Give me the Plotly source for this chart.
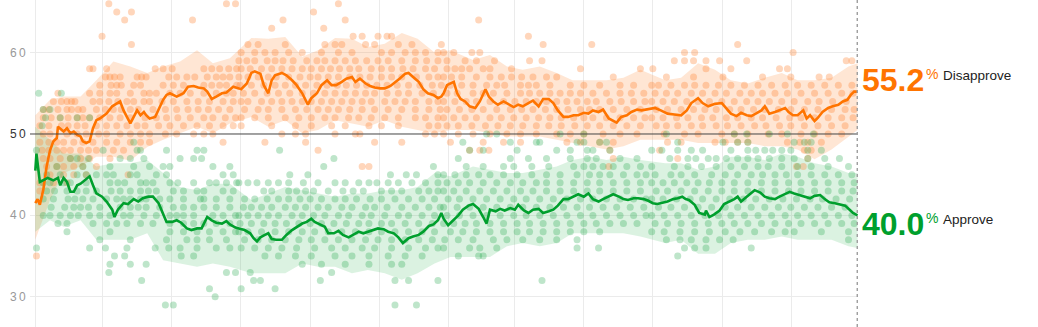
import plotly.graph_objects as go

# ---------------- data ----------------
# x = days since start of the tracking period
disapprove_days = [0,2,4,7,10,13,16,19,20,25,28,31,34,37,40,42,45,48,51,54,57,63,68,72,75,78,81,84,87,90,93,96,98,101,106,110,113,116,119,125,131,135,140,144,149,152,156,160,165,169,172,175,180,
    182,187,191,194,199,202,206,209,212,218,222,227,231,236,239,241,244,249,253,258,262,266,271,275,280,283,287,292,296,300,305,309,314,318,322,327,330,334,339,343,347,352,356,359,
    361,364,367,370,373,376,380,384,389,393,398,401,405,409,414,418,423,427,431,436,440,445,449,454,458,462,467,471,476,480,485,489,493,498,502,507,511,514,518,523,527,532,536,541,
    548,553,559,565,571,576,580,586,590,595,601,607,611,615,620,624,629,633,637,642,645,649,654,658,663,666,670,674,679,682,685,689,692,696,701,705,710,714,718,721,724,727]
disapprove = [41.5,42.0,41.3,43.1,46.0,48.0,49.1,49.5,50.9,50.3,50.7,50.1,50.3,49.9,49.7,49.1,48.9,49.1,50.7,51.7,51.9,52.5,53.4,53.8,54.0,52.9,52.1,51.3,52.1,52.9,52.3,52.7,52.3,51.9,52.1,53.4,54.2,54.8,55.0,54.6,55.0,55.8,55.9,55.7,55.6,55.2,54.3,54.6,55.0,55.1,55.4,55.8,55.6,
    55.5,56.2,57.5,57.7,57.4,56.0,55.0,56.6,57.2,57.5,57.2,56.6,56.0,55.0,54.2,53.6,54.4,55.0,56.0,56.6,56.0,56.0,56.4,56.8,57.0,56.4,56.8,56.2,55.9,55.7,55.6,55.6,55.9,56.3,56.8,57.4,57.5,57.0,56.4,55.5,55.0,54.8,54.4,54.6,
    55.0,56.0,56.2,56.4,55.0,54.3,54.0,53.4,53.2,54.0,55.5,54.6,54.0,53.6,54.0,53.7,53.3,53.6,53.4,53.8,54.1,53.4,54.3,54.3,53.8,52.9,52.1,52.1,52.3,52.3,52.6,52.5,52.9,52.7,53.0,51.9,51.6,51.4,52.1,52.3,52.7,53.0,52.9,53.0,
    53.2,52.9,52.5,52.4,52.3,52.9,53.8,54.4,53.8,53.4,53.7,53.8,53.2,52.5,52.2,52.6,52.3,52.2,52.5,52.9,53.4,52.5,52.7,52.9,53.2,52.7,52.3,52.3,52.9,51.9,52.3,51.6,52.0,52.7,53.2,53.4,53.6,54.0,54.2,54.8,55.2,55.2]

approve_days = [0,1,4,7,11,16,20,22,25,28,31,34,37,40,44,48,51,54,59,63,68,70,73,78,82,87,91,95,100,104,109,113,116,121,125,129,134,138,143,147,150,152,156,160,165,169,172,177,180,
    185,190,193,196,199,203,206,209,213,218,222,227,231,236,240,244,247,252,256,259,264,268,272,277,281,286,290,294,299,303,308,312,317,321,325,330,334,339,343,348,352,356,359,
    361,365,370,374,378,383,387,392,396,399,402,407,411,415,420,424,427,432,436,440,445,449,454,458,462,467,471,476,480,485,489,493,498,502,507,511,516,520,524,529,533,538,542,
    546,550,555,559,564,568,572,575,578,583,587,592,593,596,600,605,609,614,618,621,624,629,633,636,641,645,649,654,658,663,667,671,676,680,685,689,694,698,702,707,711,716,720,723,727]
approve = [45.5,47.6,44.1,44.3,44.6,44.3,44.6,43.7,44.6,44.1,42.9,42.9,43.7,43.9,44.3,44.8,43.7,42.7,42.3,41.7,40.7,39.8,40.7,41.5,41.4,42.0,41.7,42.1,42.3,42.3,41.5,40.3,39.2,39.2,39.4,39.1,38.4,38.2,38.4,38.4,39.2,39.8,39.4,39.1,39.0,39.3,38.9,38.5,38.4,
    38.2,37.8,37.2,36.8,37.3,37.6,37.8,37.1,37.0,37.0,37.6,38.2,38.6,39.0,39.2,39.6,39.2,38.9,38.6,37.8,37.8,38.1,37.6,37.3,37.6,38.0,37.8,38.0,38.2,38.4,38.3,38.0,37.8,37.3,36.6,37.2,37.4,37.6,38.0,38.7,38.9,39.4,40.3,
    39.6,38.8,39.4,40.0,40.7,41.2,41.4,40.8,39.8,39.0,40.7,40.5,40.8,40.6,40.9,40.7,41.3,40.6,40.3,40.7,40.8,40.3,40.5,40.7,41.2,42.0,42.0,42.3,42.6,42.3,42.7,42.0,41.7,42.0,42.3,42.6,42.3,42.0,41.9,42.1,42.1,42.0,41.8,
    41.5,41.4,41.6,41.7,42.0,42.1,42.3,42.0,41.9,41.3,40.3,40.1,40.6,39.8,40.1,40.6,41.4,41.7,42.0,42.3,41.7,42.3,42.8,43.1,42.8,42.3,42.1,42.0,42.3,42.6,42.9,42.7,42.5,42.3,42.1,42.4,42.5,42.0,41.6,41.5,41.4,41.2,40.7,40.3,40.0]

band_days = [0,13,25,40,54,69,84,99,113,128,143,157,172,191,206,221,236,250,265,280,294,309,324,338,353,367,387,402,417,431,446,461,475,491,505,520,535,557,571,586,601,615,630,645,660,674,689,704,719,727]
disapprove_hi = [52.3,54.2,54.6,54.6,56.6,58.9,58.3,57.5,58.3,58.9,60.3,58.7,59.3,61.8,61.7,61.9,59.5,60.3,61.8,61.7,60.7,61.1,62.4,61.7,60.0,60.3,59.1,59.7,58.3,57.9,58.3,57.5,56.6,56.6,56.6,56.9,57.9,56.6,56.9,58.7,57.9,56.6,56.2,56.9,57.5,56.6,56.6,56.9,58.3,58.7]
disapprove_lo = [37.0,41.9,45.2,46.0,47.2,47.2,46.7,48.4,49.3,50.1,50.9,50.1,51.3,52.1,50.9,51.7,50.1,50.5,51.7,51.3,50.9,51.7,50.9,50.5,50.1,50.5,50.5,50.1,49.7,49.7,49.7,49.3,48.9,48.5,48.1,48.5,49.3,49.3,49.3,48.9,48.9,48.9,48.9,48.5,48.5,48.1,46.9,48.1,49.7,50.5]
approve_hi = [50.9,49.3,47.6,47.6,46.0,46.4,46.4,46.8,45.2,43.5,43.1,43.9,43.9,41.9,42.7,43.5,43.1,42.7,42.3,42.7,42.7,43.1,43.1,43.5,45.2,44.8,46.0,45.6,45.2,45.2,45.6,46.0,46.8,47.2,46.8,47.2,46.8,46.4,46.4,45.6,46.0,47.2,47.2,46.8,47.6,47.2,46.4,46.0,45.2,45.2]
approve_lo = [38.0,39.4,38.6,39.4,37.0,37.0,37.0,37.8,34.5,34.1,33.7,34.1,33.7,32.9,32.9,32.9,34.1,33.7,33.7,32.9,33.3,32.9,32.1,32.9,34.1,34.9,34.9,34.9,36.2,36.6,36.2,36.6,37.8,37.8,37.8,37.8,37.4,36.6,37.0,35.3,35.3,36.6,37.0,37.0,37.4,37.0,37.0,37.0,36.2,36.0]

# individual polls: poll result -> days the poll was released
disapprove_polls = {
    66: [65,169,177,268],
    65: [72,85,246],
    64: [79,139,219,274,392],
    63: [209,255],
    62: [59,281,289,303,311,315,436],
    61: [85,188,197,221,256,265,271,292,300,321,333,359,449,492,621],
    60: [182,194,203,212,224,236,253,268,280,306,315,327,336,345,356,361,370,386,393,574,583,670],
    59: [180,187,194,205,212,219,228,240,249,256,265,274,283,293,303,312,324,336,346,356,364,380,390,406,437,448,565,574,582,593,605,629,717,722],
    58: [48,51,63,106,113,121,149,156,163,171,178,182,190,200,209,218,227,236,244,253,261,269,278,286,297,306,315,325,334,345,353,364,371,377,384,396,402,421,482,535,546,593,615,658,665],
    57: [62,66,70,75,90,94,98,118,125,134,141,152,160,166,172,180,188,197,206,213,224,234,243,250,259,268,278,287,296,306,315,324,337,348,356,361,368,377,390,402,412,421,430,440,452,461,511,558,582,608,643,668,693,702],
    56: [57,67,72,76,87,93,113,122,131,149,156,163,169,178,181,191,202,212,221,230,239,249,258,267,275,284,293,302,311,320,330,340,351,359,367,377,387,399,408,415,429,436,443,455,473,485,499,517,529,545,551,562,574,583,593,604,615,627,639,651,663,674,686,698,710,722],
    55: [20,48,57,66,72,84,96,101,107,119,128,137,149,160,169,175,184,194,205,215,225,236,246,256,265,274,283,292,300,311,321,330,342,352,364,373,387,396,405,417,429,437,446,455,464,473,482,493,505,517,527,538,548,558,568,580,590,601,611,623,633,643,654,665,677,689,701,713,723],
    54: [16,23,28,32,35,51,57,65,73,81,87,96,101,112,122,134,144,154,166,175,182,188,200,209,218,227,236,244,253,262,271,280,289,297,309,318,327,336,348,356,361,371,381,390,402,414,424,434,443,452,461,470,479,488,496,508,518,529,539,545,555,565,576,586,596,607,618,629,639,649,660,671,683,693,705,717],
    53: [7,12,20,28,32,38,42,54,62,69,76,84,91,104,115,125,135,144,153,162,172,185,197,206,218,230,240,250,259,268,278,289,300,312,324,336,348,358,364,375,386,396,408,420,430,440,451,461,471,482,490,499,511,523,535,549,559,571,582,592,602,614,624,635,645,657,668,680,692,704,716,724],
    52: [7,14,22,29,37,42,48,57,66,75,84,97,107,116,126,137,149,157,168,177,182,194,206,221,233,244,256,265,277,286,297,309,321,336,345,356,361,370,380,390,402,412,423,434,445,455,465,476,485,493,505,517,529,539,545,555,567,577,589,599,611,621,633,643,655,667,677,689,701,713,723],
    51: [4,12,23,29,37,44,54,63,72,81,90,97,109,119,131,143,154,166,175,182,209,230,244,262,274,295,306,321,348,356,364,374,386,398,409,420,431,443,454,465,477,488,499,511,523,535,549,558,568,580,590,602,612,624,636,646,658,668,680,692,704,716],
    50: [7,13,28,37,45,56,63,75,84,93,101,115,125,140,149,157,218,230,239,265,283,287,345,353,361,374,387,402,417,429,443,461,473,485,502,517,532,556,574,586,607,618,630,648,660,677,689,701,713],
    49: [4,12,19,25,34,42,51,63,72,84,93,101,166,203,239,300,324,367,396,414,429,470,482,499,511,559,571,601,610,621,630,665,676,683,695],
    48: [6,12,19,25,31,40,47,54,69,78,250,384,393,401,508,552,680,686],
    47: [7,13,22,31,40,48,66,511,568,683],
    46: [10,19,25,34,42,54,289,295,507,673,679],
    45: [13,25,34,45,82],
    44: [4,16,28],
    43: [4],
    35: [1],
}
approve_polls = {
    55: [3,23],
    53: [7,13],
    52: [9,22,37,48],
    51: [6],
    50: [399,408,464,485,558,618,629,649,665,688],
    49: [87,378,420,443,446,479,485,499,505,568,608,621,630,671,680,686],
    48: [1,60,90,93,116,143,149,216,384,396,426,461,473,488,493,508,545,554,568,580,590,615,630,637,645,652,660,668,683,695],
    47: [31,37,47,75,84,96,128,140,147,264,374,420,436,452,473,488,496,517,532,561,577,584,595,602,611,621,630,639,649,660,671,683,698,711],
    46: [19,42,66,87,101,113,119,157,172,255,352,381,396,414,423,439,454,476,485,493,502,511,523,535,545,565,577,589,602,615,627,639,648,660,674,686,701,719],
    45: [10,22,37,45,54,63,69,84,90,107,116,166,175,225,241,314,328,337,356,361,371,381,392,402,414,426,439,452,464,479,490,499,508,520,532,540,548,562,571,583,598,610,621,633,643,654,664,674,686,698,710,722],
    44: [7,13,25,31,45,66,73,79,93,98,104,119,126,140,154,160,169,178,180,188,196,206,215,224,237,250,265,274,286,295,302,312,321,333,345,356,364,374,384,396,408,420,431,443,452,464,476,488,499,511,523,535,545,555,565,576,586,596,607,618,630,642,654,666,677,689,701,713,724],
    43: [10,17,28,37,45,54,67,75,84,93,100,107,122,131,143,149,166,175,202,209,224,231,239,246,259,272,281,290,306,315,324,339,348,356,361,370,381,393,405,417,429,440,452,464,476,488,499,511,523,535,549,559,571,583,595,607,618,630,642,654,666,677,689,701,713,723],
    42: [7,16,29,35,42,51,63,72,78,84,93,98,110,119,131,146,149,160,172,185,194,205,215,224,234,243,253,265,274,284,296,306,318,330,342,353,365,375,387,399,411,423,434,446,458,470,482,493,505,517,529,540,545,555,567,579,590,602,614,626,637,649,661,673,685,696,708,720],
    41: [14,26,34,40,47,57,75,84,91,98,110,122,131,140,149,160,172,184,191,200,209,221,230,239,250,259,271,280,292,300,311,324,336,348,358,361,373,384,396,408,420,431,443,455,467,479,490,502,514,526,538,551,562,574,586,598,610,621,633,645,657,668,680,692,704,716],
    40: [7,13,22,31,38,48,57,66,78,84,96,107,119,125,131,140,157,166,177,180,188,197,206,215,227,236,246,256,268,277,289,297,309,321,330,342,353,364,375,387,399,411,423,434,446,458,470,482,493,505,517,529,540,545,556,568,580,592,604,615,627,639,651,663,674,686,698,710,722],
    39: [20,28,51,63,72,81,93,104,119,131,140,149,160,172,181,191,202,212,222,233,243,253,264,275,286,295,306,315,327,339,351,361,370,380,390,402,414,426,437,449,461,473,485,496,508,520,532,548,559,571,583,595,607,618,630,642,654,666,677,689,701,713,724],
    38: [28,66,119,131,143,154,166,177,180,188,200,212,224,236,247,259,271,283,295,306,318,330,342,353,367,378,390,402,414,426,437,449,461,473,485,499,545,556,570,583,596,610,623,636,651,663,671,695,719],
    37: [57,84,116,134,143,154,169,185,197,209,221,233,244,256,268,280,292,303,315,327,339,351,362,374,387,405,417,431,446,461,479,558,570,580,593,605,617,719],
    36: [1,48,62,81,106,118,128,143,160,172,182,194,206,218,231,247,262,274,289,300,315,330,345,356,361,384,393,408,479,498,574,583,593,633],
    35: [70,79,129,140,203,215,230,244,265,280,295,312,327,342,374,392,396,568],
    34: [66,84,98,236,253,274,295,315,324],
    33: [65,169,177,190,262],
    32: [94,193,199,252,318,330,356,448],
    31: [154,182,212],
    30: [159],
    29: [115,122,318,337],
}

grid_days = [0, 59, 120, 181, 243, 304, 365, 424, 485, 546, 608, 669]
y_ticks = [30, 40, 50, 60]

# ---------------- styling ----------------
ORANGE = "#ff7400"
GREEN = "#009f2d"
ORANGE_BAND = "rgba(255,130,40,0.20)"
GREEN_BAND = "rgba(40,175,80,0.17)"
ORANGE_DOT = "rgba(255,130,50,0.33)"
GREEN_DOT = "rgba(40,170,80,0.30)"

fig = go.Figure()

# confidence bands
for hi, lo, col in [(disapprove_hi, disapprove_lo, ORANGE_BAND), (approve_hi, approve_lo, GREEN_BAND)]:
    fig.add_trace(go.Scatter(x=band_days, y=hi, mode="lines", line=dict(width=0), hoverinfo="skip"))
    fig.add_trace(go.Scatter(x=band_days, y=lo, mode="lines", line=dict(width=0), fill="tonexty",
                             fillcolor=col, hoverinfo="skip"))

def flatten(polls):
    xs, ys = [], []
    for val, days in polls.items():
        for d in days:
            xs.append(d)
            ys.append(val)
    return xs, ys

for polls, col in [(disapprove_polls, ORANGE_DOT), (approve_polls, GREEN_DOT)]:
    xs, ys = flatten(polls)
    fig.add_trace(go.Scatter(x=xs, y=ys, mode="markers",
                             marker=dict(size=7, color=col, line=dict(width=0)), hoverinfo="skip"))

fig.add_trace(go.Scatter(x=disapprove_days, y=disapprove, mode="lines",
                         line=dict(color=ORANGE, width=2.6)))
fig.add_trace(go.Scatter(x=approve_days, y=approve, mode="lines",
                         line=dict(color=GREEN, width=2.6)))

last_day = disapprove_days[-1]

fig.update_layout(
    width=1038, height=327,
    margin=dict(l=30, r=180, t=0, b=0),
    paper_bgcolor="white", plot_bgcolor="white",
    showlegend=False,
    font=dict(family="Liberation Sans, Arial, sans-serif"),
    xaxis=dict(range=[-4.7, last_day + 0.4], tickvals=grid_days, showticklabels=False,
               showgrid=True, gridcolor="#ebebeb", gridwidth=1, zeroline=False, showline=False,
               ticks=""),
    yaxis=dict(range=[26.29, 66.46], tickvals=[v for v in y_ticks if v != 50], showticklabels=False,
               showgrid=True, gridcolor="#ebebeb", gridwidth=1, zeroline=False, showline=False,
               ticks=""),
)

# 50% reference line
fig.add_shape(type="line", xref="paper", x0=0, x1=1, yref="y", y0=50, y1=50,
              line=dict(color="#444", width=1), layer="above")
# dotted "today" line
fig.add_shape(type="line", xref="x", x0=last_day, x1=last_day, yref="paper", y0=0, y1=1,
              line=dict(color="#a0a0a0", width=2, dash="dot"), layer="above")

# y tick labels
for v in y_ticks:
    fig.add_annotation(xref="paper", x=0, xanchor="right", xshift=-2, yref="y", y=v,
                       yanchor="middle", showarrow=False,
                       text="\u2009".join(str(v)),
                       font=dict(size=12, color="#333" if v == 50 else "#999"))

# end labels
def end_label(value, name, color, ypix):
    yc = 1 - ypix / 327
    fig.add_annotation(xref="paper", x=1, xanchor="left", xshift=2, yref="paper", y=yc,
                       yanchor="middle", showarrow=False, text=f"{value:.1f}",
                       font=dict(size=32, color=color, weight="bold"))
    fig.add_annotation(xref="paper", x=1, xanchor="left", xshift=66, yref="paper", y=yc + 6 / 327,
                       yanchor="middle", showarrow=False, text="%",
                       font=dict(size=14, color=color))
    fig.add_annotation(xref="paper", x=1, xanchor="left", xshift=83, yref="paper", y=yc + 4 / 327,
                       yanchor="middle", showarrow=False, text=name,
                       font=dict(size=13.5, color="#222"))

end_label(disapprove[-1], "Disapprove", ORANGE, 80)
end_label(approve[-1], "Approve", GREEN, 224)

fig.write_html("out.html")
